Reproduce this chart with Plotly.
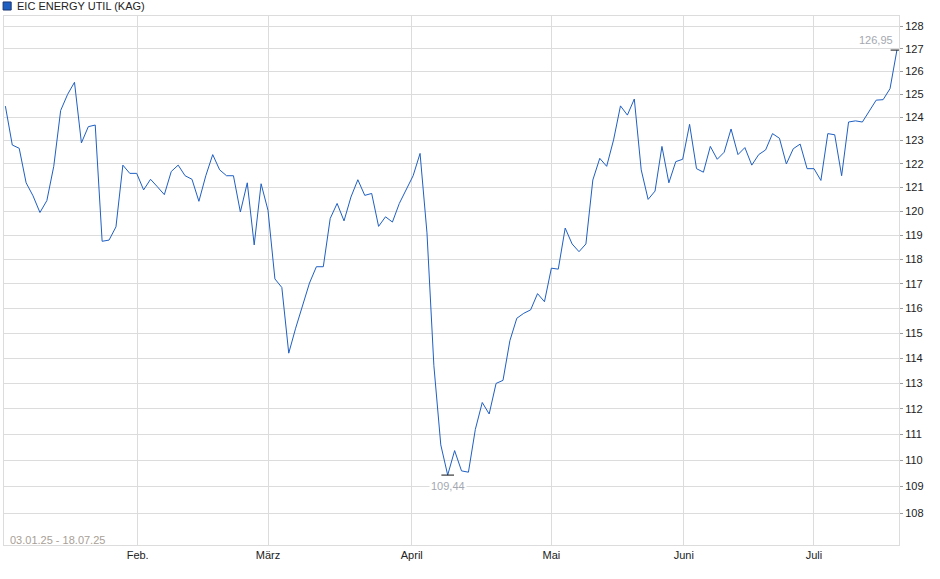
import math
import plotly.graph_objects as go

# Fondsname und Zeitraum
SERIES_NAME = 'EIC ENERGY UTIL (KAG)'
PERIOD = '03.01.25 - 18.07.25'

prices = [
    124.49, 122.81, 122.67, 121.20, 120.65, 119.95, 120.45, 121.90, 124.30, 125.00,
    125.53, 122.90, 123.60, 123.67, 118.75, 118.80, 119.35, 121.95, 121.60,
    121.60, 120.90, 121.35, 121.03, 120.70, 121.68, 121.95, 121.50, 121.35, 120.42,
    121.50, 122.40, 121.75, 121.50, 121.50, 119.97, 121.20, 118.60, 121.16, 120.04,
    117.20, 116.85, 114.20, 115.20, 116.07, 117.03, 117.70, 117.70, 119.70, 120.33,
    119.60, 120.60, 121.33, 120.67, 120.75, 119.37, 119.77, 119.55, 120.33, 120.90,
    121.50, 122.45, 119.10, 113.70, 110.60, 109.44, 110.38, 109.60, 109.55, 111.20,
    112.25, 111.80, 113.00, 113.12, 114.70, 115.60, 115.80, 115.94, 116.60, 116.27,
    117.64, 117.60, 119.30, 118.64, 118.32, 118.64, 121.32, 122.24, 121.90, 123.03,
    124.50, 124.10, 124.80, 121.75, 120.50, 120.85, 122.75, 121.20, 122.10, 122.20,
    123.70, 121.80, 121.65, 122.75, 122.20, 122.50, 123.50, 122.40, 122.70, 121.95,
    122.40, 122.60, 123.30, 123.10, 122.00, 122.65, 122.85, 121.80, 121.80, 121.30,
    123.30, 123.25, 121.50, 123.80, 123.85, 123.80, 124.25, 124.75, 124.77, 125.25,
    126.95,
]

# Monatsanfaenge als Position in der Handelstag-Reihe
month_pos = [19.14, 38.0, 58.8, 79.0, 98.17, 117.0]
month_labels = ['Feb.', 'März', 'April', 'Mai', 'Juni', 'Juli']

y_ticks = [108, 109, 110, 111, 112, 113, 114, 115, 116, 117, 118,
           119, 120, 121, 122, 123, 124, 125, 126, 127, 128]

LINE_COLOR = '#1f5fc2'
GRID_COLOR = '#dcdcdc'
FONT = 'Liberation Sans, Arial, sans-serif'


def de_num(v):
    return f'{v:.2f}'.replace('.', ',')


x_idx = list(range(len(prices)))
i_max = prices.index(max(prices))
i_min = prices.index(min(prices))

fig = go.Figure()

fig.add_trace(go.Scatter(
    x=x_idx, y=prices, mode='lines', name=SERIES_NAME,
    line=dict(color=LINE_COLOR, width=1), hoverinfo='y',
))

# Hoch/Tief-Markierungen
fig.add_trace(go.Scatter(
    x=[i_max, i_min], y=[prices[i_max], prices[i_min]], mode='markers',
    marker=dict(symbol='line-ew', size=9, line=dict(color='#111111', width=1)),
    hoverinfo='skip',
))

fig.add_annotation(
    x=i_max, y=math.log10(prices[i_max]), text=de_num(prices[i_max]),
    showarrow=False, xanchor='right', yanchor='bottom', xshift=-2, yshift=2,
    font=dict(family=FONT, size=11, color='#a4a8b0'), bgcolor='white',
)
fig.add_annotation(
    x=i_min, y=math.log10(prices[i_min]), text=de_num(prices[i_min]),
    showarrow=False, xanchor='center', yanchor='top', yshift=-3,
    font=dict(family=FONT, size=11, color='#a4a8b0'), bgcolor='white',
)

# Zeitraum unten links
fig.add_annotation(
    xref='paper', yref='paper', x=0.005, y=0.01, text=PERIOD,
    showarrow=False, xanchor='left', yanchor='middle',
    font=dict(family=FONT, size=11, color='#a8a096'),
)

# Legende oben links
fig.add_shape(
    type='rect', xref='paper', yref='paper',
    x0=-0.001, x1=0.008, y0=1.0113, y1=1.0265,
    fillcolor=LINE_COLOR, line=dict(color='#1a3570', width=1),
)
fig.add_annotation(
    xref='paper', yref='paper', x=0.0123, y=1.019, text=SERIES_NAME,
    showarrow=False, xanchor='left', yanchor='middle',
    font=dict(family=FONT, size=11, color='#222222'),
)

fig.update_layout(
    width=940, height=579,
    margin=dict(l=4, r=41, t=16, b=34),
    paper_bgcolor='white', plot_bgcolor='white',
    showlegend=False,
    font=dict(family=FONT, size=11, color='#222222'),
)

fig.update_xaxes(
    range=[-0.2, 129.3],
    tickmode='array', tickvals=month_pos, ticktext=month_labels,
    showgrid=True, gridcolor=GRID_COLOR, gridwidth=1,
    showline=True, linecolor=GRID_COLOR, mirror=True,
    ticks='', zeroline=False,
    tickfont=dict(family=FONT, size=11, color='#222222'),
)

fig.update_yaxes(
    type='log', side='right',
    range=[math.log10(106.8), math.log10(128.47)],
    tickmode='array', tickvals=y_ticks, ticktext=[str(t) for t in y_ticks],
    showgrid=True, gridcolor=GRID_COLOR, gridwidth=1,
    showline=True, linecolor=GRID_COLOR, mirror=True,
    ticks='outside', ticklen=3, tickcolor='#999999',
    zeroline=False,
    tickfont=dict(family=FONT, size=11, color='#222222'),
)

# Seitenrand des Browsers entfernen, damit das Bild bei 0/0 beginnt
fig.write_html('out.html', config={'displayModeBar': False},
               post_script="document.body.style.margin='0';")
